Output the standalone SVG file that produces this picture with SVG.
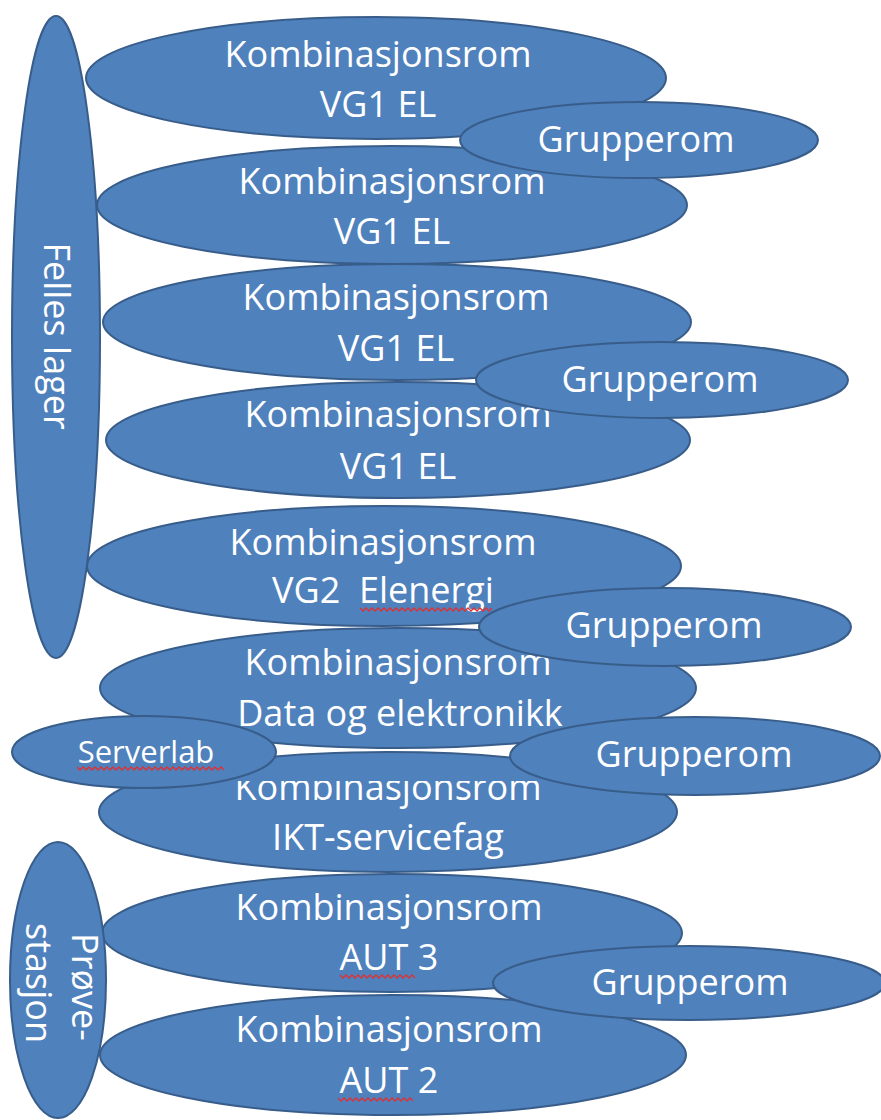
<svg xmlns="http://www.w3.org/2000/svg" width="881" height="1120" viewBox="0 0 881 1120">
<style>
.n{fill:#4F81BD;stroke:#385D8A;stroke-width:2}
.t{fill:#FFFFFF;font-family:"Open Sans","Liberation Sans",sans-serif;font-size:36px;text-anchor:middle}
.s{fill:#FFFFFF;font-family:"Open Sans","Liberation Sans",sans-serif;font-size:31px;text-anchor:middle}
.sq{fill:none;stroke:#E03030;stroke-width:1.3}
</style>
<defs>
<clipPath id="ikt"><rect x="0" y="781" width="881" height="200"/></clipPath>
</defs>
<rect width="881" height="1120" fill="#FFFFFF"/>
<g id="connectors"></g>

<g id="k1"><ellipse class="n" cx="376" cy="78" rx="290" ry="61"/>
<text class="t" x="378" y="67">Kombinasjonsrom</text><text class="t" x="378" y="117">VG1 EL</text></g>
<g id="k2"><ellipse class="n" cx="392" cy="205" rx="295" ry="59"/>
<text class="t" x="392" y="194">Kombinasjonsrom</text><text class="t" x="392" y="244">VG1 EL</text></g>
<g id="g1"><ellipse class="n" cx="639" cy="140" rx="179" ry="38"/>
<text class="t" x="636" y="152">Grupperom</text></g>

<g id="k3"><ellipse class="n" cx="397" cy="322" rx="294" ry="58"/>
<text class="t" x="396" y="310">Kombinasjonsrom</text><text class="t" x="396" y="361">VG1 EL</text></g>
<g id="k4"><ellipse class="n" cx="398" cy="440" rx="292" ry="58"/>
<text class="t" x="398" y="427">Kombinasjonsrom</text><text class="t" x="398" y="479">VG1 EL</text></g>
<g id="g2"><ellipse class="n" cx="662" cy="380" rx="186" ry="38"/>
<text class="t" x="660" y="392">Grupperom</text></g>

<g id="k5"><ellipse class="n" cx="384" cy="566" rx="297" ry="60"/>
<text class="t" x="383" y="555">Kombinasjonsrom</text><text class="t" x="383" y="603" xml:space="preserve">VG2  Elenergi</text>
<path class="sq" d="M360 608 l3 3 l3 -3 l3 3 l3 -3 l3 3 l3 -3 l3 3 l3 -3 l3 3 l3 -3 l3 3 l3 -3 l3 3 l3 -3 l3 3 l3 -3 l3 3 l3 -3 l3 3 l3 -3 l3 3 l3 -3 l3 3 l3 -3 l3 3 l3 -3 l3 3 l3 -3 l3 3 l3 -3 l3 3 l3 -3 l3 3 l3 -3 l3 3 l3 -3 l3 3 l3 -3 l3 3 l3 -3 l3 3 l3 -3 l3 3 l3 -3"/></g>
<g id="k6"><ellipse class="n" cx="398" cy="688" rx="298" ry="60"/>
<text class="t" x="398" y="675">Kombinasjonsrom</text><text class="t" x="400" y="726">Data og elektronikk</text></g>
<g id="g3"><ellipse class="n" cx="665" cy="627" rx="186" ry="39"/>
<text class="t" x="664" y="638">Grupperom</text></g>

<g id="k7"><ellipse class="n" cx="388" cy="812" rx="289" ry="60"/>
<text class="t" x="388" y="800" clip-path="url(#ikt)">Kombinasjonsrom</text><text class="t" x="388" y="850">IKT-servicefag</text></g>
<g id="serverlab"><ellipse class="n" cx="144" cy="752" rx="132" ry="36"/>
<text class="s" x="146" y="763">Serverlab</text>
<path class="sq" d="M77 767 l3 3 l3 -3 l3 3 l3 -3 l3 3 l3 -3 l3 3 l3 -3 l3 3 l3 -3 l3 3 l3 -3 l3 3 l3 -3 l3 3 l3 -3 l3 3 l3 -3 l3 3 l3 -3 l3 3 l3 -3 l3 3 l3 -3 l3 3 l3 -3 l3 3 l3 -3 l3 3 l3 -3 l3 3 l3 -3 l3 3 l3 -3 l3 3 l3 -3 l3 3 l3 -3 l3 3 l3 -3 l3 3 l3 -3 l3 3 l3 -3 l3 3 l3 -3 l3 3 l3 -3 l3 3"/></g>
<g id="g4"><ellipse class="n" cx="695" cy="756" rx="185" ry="39"/>
<text class="t" x="694" y="767">Grupperom</text></g>

<g id="k8"><ellipse class="n" cx="392" cy="933" rx="290" ry="59"/>
<text class="t" x="389" y="920">Kombinasjonsrom</text><text class="t" x="389" y="970">AUT 3</text>
<path class="sq" d="M340 975 l3 3 l3 -3 l3 3 l3 -3 l3 3 l3 -3 l3 3 l3 -3 l3 3 l3 -3 l3 3 l3 -3 l3 3 l3 -3 l3 3 l3 -3 l3 3 l3 -3 l3 3 l3 -3 l3 3 l3 -3 l3 3 l3 -3 l3 3"/></g>
<g id="k9"><ellipse class="n" cx="393" cy="1055" rx="293" ry="60"/>
<text class="t" x="389" y="1042">Kombinasjonsrom</text><text class="t" x="389" y="1093">AUT 2</text>
<path class="sq" d="M338 1098 l3 3 l3 -3 l3 3 l3 -3 l3 3 l3 -3 l3 3 l3 -3 l3 3 l3 -3 l3 3 l3 -3 l3 3 l3 -3 l3 3 l3 -3 l3 3 l3 -3 l3 3 l3 -3 l3 3 l3 -3 l3 3 l3 -3 l3 3"/></g>
<g id="g5"><ellipse class="n" cx="689" cy="983" rx="196" ry="37"/>
<text class="t" x="690" y="995">Grupperom</text></g>

<g id="felles"><ellipse class="n" cx="56" cy="337" rx="44" ry="321"/>
<text class="t" transform="translate(44,336) rotate(90)" x="0" y="0">Felles lager</text></g>
<g id="provestasjon"><ellipse class="n" cx="58" cy="980" rx="48" ry="138"/>
<text class="t" transform="translate(72,987) rotate(90)" x="0" y="0">Prøve-</text>
<text class="t" transform="translate(26,983) rotate(90)" x="0" y="0">stasjon</text></g>
</svg>
